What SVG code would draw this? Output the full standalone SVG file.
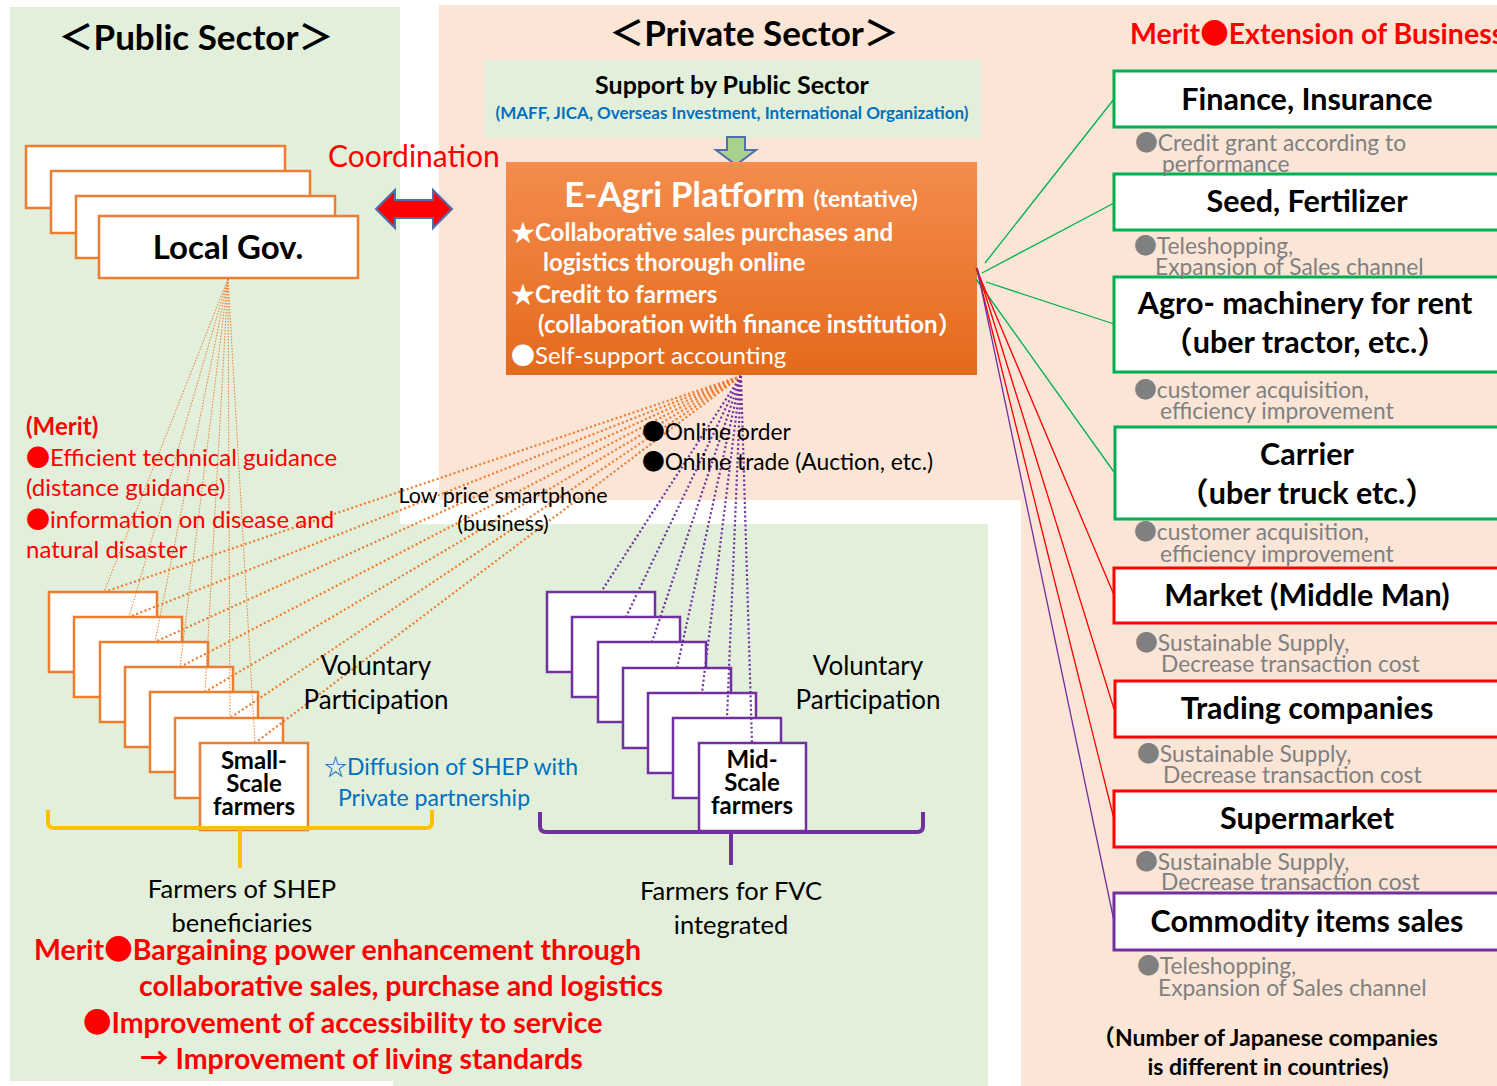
<svg xmlns="http://www.w3.org/2000/svg" width="1497" height="1086" viewBox="0 0 1497 1086">
<defs>
<linearGradient id="pg" x1="0" y1="0" x2="0" y2="1"><stop offset="0" stop-color="#F48C4D"/><stop offset="1" stop-color="#E46A1B"/></linearGradient>
<style>
text { font-family: Lato, "Noto Sans CJK JP", sans-serif; }
.b { font-weight: 700; }
.j { font-family: "Noto Sans CJK JP", sans-serif; }
.ob { fill: #fff; stroke: #ED7D31; stroke-width: 2.5; }
.pb { fill: #fff; stroke: #7030A0; stroke-width: 2.5; }
.gb { fill: #fff; stroke: #00B050; stroke-width: 3; }
.rb { fill: #fff; stroke: #FF0000; stroke-width: 3; }
.vb { fill: #fff; stroke: #7030A0; stroke-width: 3; }
.thin { stroke: #ED7D31; stroke-width: 1; stroke-dasharray: 1.5 1.5; fill: none; }
.od { stroke: #ED7D31; stroke-width: 2.2; stroke-dasharray: 2 2.5; fill: none; }
.pd { stroke: #7030A0; stroke-width: 2.2; stroke-dasharray: 2 2.5; fill: none; }
.lbl { font-size: 30.5px; font-weight: 700; fill: #000; text-anchor: middle; }
.gray { font-size: 22.8px; fill: #808080; }
.red { fill: #FF0000; }
.wt { fill: #fff; }
.farm { font-size: 24px; font-weight: 700; fill: #000; text-anchor: middle; }
</style>
</defs>

<g id="backgrounds">
<rect x="10" y="7" width="390" height="1074" fill="#E2EFDA"/>
<rect x="393" y="524" width="595" height="562" fill="#E2EFDA"/>
<rect x="439" y="5" width="1058" height="495" fill="#FBE5D6"/>
<rect x="1021" y="500" width="476" height="586" fill="#FBE5D6"/>
</g>

<g id="titles">
<text x="196" y="50" class="b" font-size="35" text-anchor="middle"><tspan class="j">＜</tspan>Public Sector<tspan class="j">＞</tspan></text>
<text x="754" y="46" class="b" font-size="35" text-anchor="middle"><tspan class="j">＜</tspan>Private Sector<tspan class="j">＞</tspan></text>
<text x="1130" y="44" class="b red" font-size="28.5">Merit<tspan class="j">●</tspan>Extension of Business</text>
</g>

<g id="support">
<rect x="484" y="60" width="497" height="78" fill="#E2EFDA"/>
<text x="732" y="94" class="b" font-size="25" text-anchor="middle">Support by Public Sector</text>
<text x="732" y="119" class="b" font-size="17" text-anchor="middle" fill="#0070C0">(MAFF, JICA, Overseas Investment, International Organization)</text>
</g>
<polygon id="down-arrow" points="727,137 745,137 745,150 756,150 736,165 716,150 727,150" fill="#A9D18E" stroke="#4F6FA8" stroke-width="2"/>

<g id="platform">
<rect x="506" y="162" width="471" height="213" fill="url(#pg)"/>
<text x="741" y="207" class="b wt" font-size="35" text-anchor="middle">E-Agri Platform <tspan font-size="23">(tentative)</tspan></text>
<text x="511" y="241" class="b wt" font-size="24"><tspan class="j">★</tspan>Collaborative sales purchases and</text>
<text x="543" y="271" class="b wt" font-size="24">logistics thorough online</text>
<text x="511" y="303" class="b wt" font-size="24"><tspan class="j">★</tspan>Credit to farmers</text>
<text x="538" y="333" class="b wt" font-size="24">(collaboration with finance institution<tspan class="j">）</tspan></text>
<text x="511" y="364" class="wt" font-size="24"><tspan class="j">●</tspan>Self-support accounting</text>
</g>

<g id="local-gov">
<rect x="26" y="146" width="259" height="62" class="ob"/>
<rect x="51" y="171" width="259" height="62" class="ob"/>
<rect x="76" y="196" width="259" height="62" class="ob"/>
<rect x="99" y="216" width="259" height="62" class="ob"/>
<text x="228" y="259" class="b" font-size="33" text-anchor="middle">Local Gov.</text>
</g>

<g id="coordination">
<text x="328" y="167" class="red" font-size="30">Coordination</text>
<polygon points="376,209 395,190 395,200 433,200 433,190 452,209 433,228 433,218 395,218 395,228" fill="#FF0000" stroke="#4F6FA8" stroke-width="2"/>
</g>

<g id="small-farmers">
<rect x="49" y="592" width="108" height="80" class="ob"/>
<rect x="74" y="617" width="108" height="80" class="ob"/>
<rect x="100" y="642" width="108" height="80" class="ob"/>
<rect x="125" y="667" width="108" height="80" class="ob"/>
<rect x="150" y="692" width="108" height="80" class="ob"/>
<rect x="175" y="718" width="108" height="80" class="ob"/>
<rect x="200" y="743" width="108" height="87" class="ob"/>
<text class="farm"><tspan x="254" y="769">Small-</tspan><tspan x="254" y="792">Scale</tspan><tspan x="254" y="815">farmers</tspan></text>
</g>

<g id="mid-farmers">
<rect x="547" y="592" width="108" height="80" class="pb"/>
<rect x="572" y="617" width="108" height="80" class="pb"/>
<rect x="598" y="642" width="108" height="80" class="pb"/>
<rect x="623" y="668" width="108" height="80" class="pb"/>
<rect x="648" y="693" width="108" height="80" class="pb"/>
<rect x="673" y="718" width="108" height="80" class="pb"/>
<rect x="699" y="743" width="107" height="88" class="pb"/>
<text class="farm"><tspan x="752" y="768">Mid-</tspan><tspan x="752" y="791">Scale</tspan><tspan x="752" y="814">farmers</tspan></text>
</g>

<g id="connectors">
<g id="gov-lines">
<line x1="228" y1="279" x2="104" y2="592" class="thin"/>
<line x1="228" y1="279" x2="129" y2="617" class="thin"/>
<line x1="228" y1="279" x2="155" y2="642" class="thin"/>
<line x1="228" y1="279" x2="180" y2="667" class="thin"/>
<line x1="228" y1="279" x2="205" y2="692" class="thin"/>
<line x1="228" y1="279" x2="230" y2="718" class="thin"/>
<line x1="228" y1="279" x2="255" y2="743" class="thin"/>
</g>
<g id="platform-small">
<line x1="741" y1="376" x2="104" y2="592" class="od"/>
<line x1="741" y1="376" x2="129" y2="617" class="od"/>
<line x1="741" y1="376" x2="155" y2="642" class="od"/>
<line x1="741" y1="376" x2="180" y2="667" class="od"/>
<line x1="741" y1="376" x2="205" y2="692" class="od"/>
<line x1="741" y1="376" x2="230" y2="718" class="od"/>
<line x1="741" y1="376" x2="255" y2="743" class="od"/>
</g>
<g id="platform-mid">
<line x1="741" y1="376" x2="601" y2="592" class="pd"/>
<line x1="741" y1="376" x2="626" y2="617" class="pd"/>
<line x1="741" y1="376" x2="652" y2="642" class="pd"/>
<line x1="741" y1="376" x2="677" y2="668" class="pd"/>
<line x1="741" y1="376" x2="702" y2="693" class="pd"/>
<line x1="741" y1="376" x2="727" y2="718" class="pd"/>
<line x1="741" y1="376" x2="752" y2="743" class="pd"/>
</g>
<g id="platform-right">
<line x1="985" y1="263" x2="1114" y2="99" stroke="#00B050" stroke-width="1.3"/>
<line x1="982" y1="273" x2="1114" y2="203" stroke="#00B050" stroke-width="1.3"/>
<line x1="986" y1="282" x2="1114" y2="324" stroke="#00B050" stroke-width="1.3"/>
<line x1="976" y1="279" x2="1114" y2="472" stroke="#00B050" stroke-width="1.3"/>
<line x1="976" y1="268" x2="1114" y2="595" stroke="#FF0000" stroke-width="1.3"/>
<line x1="977" y1="268" x2="1114" y2="709" stroke="#FF0000" stroke-width="1.3"/>
<line x1="977" y1="270" x2="1114" y2="819" stroke="#FF0000" stroke-width="1.3"/>
<line x1="977" y1="268" x2="1114" y2="921" stroke="#7030A0" stroke-width="1.3"/>
</g>
<path id="brace-small" d="M48,810 L48,822 Q48,828 54,828 L426,828 Q432,828 432,822 L432,810 M240,828 L240,868" fill="none" stroke="#FFC000" stroke-width="4"/>
<path id="brace-mid" d="M540,812 L540,826 Q540,832 546,832 L917,832 Q923,832 923,826 L923,812 M731,832 L731,865" fill="none" stroke="#7030A0" stroke-width="4"/>
</g>

<g id="left-texts">
<text x="26" y="435" class="b red" font-size="24">(Merit)</text>
<text x="26" y="466" class="red" font-size="24"><tspan class="j">●</tspan>Efficient technical guidance</text>
<text x="26" y="496" class="red" font-size="24">(distance guidance)</text>
<text x="26" y="528" class="red" font-size="24"><tspan class="j">●</tspan>information on disease and</text>
<text x="26" y="558" class="red" font-size="24">natural disaster</text>
</g>

<g id="middle-texts">
<text x="503" y="503" font-size="21.5" text-anchor="middle">Low price smartphone</text>
<text x="503" y="531" font-size="21.5" text-anchor="middle">(business)</text>
<text x="642" y="440" font-size="22.8"><tspan class="j">●</tspan>Online order</text>
<text x="642" y="470" font-size="22.8"><tspan class="j">●</tspan>Online trade (Auction, etc.)</text>
<text x="376" y="675" font-size="26" text-anchor="middle">Voluntary</text>
<text x="376" y="709" font-size="26" text-anchor="middle">Participation</text>
<text x="868" y="675" font-size="26" text-anchor="middle">Voluntary</text>
<text x="868" y="709" font-size="26" text-anchor="middle">Participation</text>
<text x="324" y="775" font-size="23" fill="#0070C0"><tspan class="j">☆</tspan>Diffusion of SHEP with</text>
<text x="338" y="806" font-size="23" fill="#0070C0">Private partnership</text>
<text x="242" y="898" font-size="25.5" text-anchor="middle">Farmers of SHEP</text>
<text x="242" y="932" font-size="25.5" text-anchor="middle">beneficiaries</text>
<text x="731" y="900" font-size="25.5" text-anchor="middle">Farmers for FVC</text>
<text x="731" y="934" font-size="25.5" text-anchor="middle">integrated</text>
</g>

<g id="bottom-merit">
<text x="34" y="960" class="b red" font-size="28.5">Merit<tspan class="j">●</tspan>Bargaining power enhancement through</text>
<text x="139" y="996" class="b red" font-size="28.5">collaborative sales, purchase and logistics</text>
<text x="83" y="1033" class="b red" font-size="28.5"><tspan class="j">●</tspan>Improvement of accessibility to service</text>
<text x="140" y="1069" class="b red" font-size="28.5"><tspan class="j">→</tspan> Improvement of living standards</text>
</g>

<g id="finance"><rect x="1114" y="71" width="400" height="56" class="gb"/><text x="1307" y="110" class="lbl">Finance, Insurance</text></g>
<g id="seed"><rect x="1114" y="174" width="400" height="56" class="gb"/><text x="1307" y="212" class="lbl">Seed, Fertilizer</text></g>
<g id="agro"><rect x="1114" y="277" width="400" height="95" class="gb"/><text x="1305" y="314" class="lbl">Agro- machinery for rent</text><text x="1305" y="353" class="lbl"><tspan class="j">（</tspan>uber tractor, etc.<tspan class="j">）</tspan></text></g>
<g id="carrier"><rect x="1115" y="427" width="400" height="92" class="gb"/><text x="1307" y="465" class="lbl">Carrier</text><text x="1307" y="504" class="lbl"><tspan class="j">（</tspan>uber truck etc.<tspan class="j">）</tspan></text></g>
<g id="market"><rect x="1114" y="568" width="400" height="55" class="rb"/><text x="1307" y="606" class="lbl">Market (Middle Man)</text></g>
<g id="trading"><rect x="1115" y="681" width="400" height="56" class="rb"/><text x="1307" y="719" class="lbl">Trading companies</text></g>
<g id="supermarket"><rect x="1114" y="791" width="400" height="56" class="rb"/><text x="1307" y="829" class="lbl">Supermarket</text></g>
<g id="commodity"><rect x="1114" y="893" width="400" height="57" class="vb"/><text x="1307" y="932" class="lbl">Commodity items sales</text></g>

<g id="merit-notes">
<text x="1135" y="151" class="gray"><tspan class="j">●</tspan>Credit grant according to</text>
<text x="1162" y="172" class="gray">performance</text>
<text x="1134" y="254" class="gray"><tspan class="j">●</tspan>Teleshopping,</text>
<text x="1155" y="275" class="gray">Expansion of Sales channel</text>
<text x="1134" y="398" class="gray"><tspan class="j">●</tspan>customer acquisition,</text>
<text x="1160" y="419" class="gray">efficiency improvement</text>
<text x="1134" y="540" class="gray"><tspan class="j">●</tspan>customer acquisition,</text>
<text x="1160" y="562" class="gray">efficiency improvement</text>
<text x="1135" y="651" class="gray"><tspan class="j">●</tspan>Sustainable Supply,</text>
<text x="1161" y="672" class="gray">Decrease transaction cost</text>
<text x="1137" y="762" class="gray"><tspan class="j">●</tspan>Sustainable Supply,</text>
<text x="1163" y="783" class="gray">Decrease transaction cost</text>
<text x="1135" y="870" class="gray"><tspan class="j">●</tspan>Sustainable Supply,</text>
<text x="1161" y="890" class="gray">Decrease transaction cost</text>
<text x="1137" y="974" class="gray"><tspan class="j">●</tspan>Teleshopping,</text>
<text x="1158" y="996" class="gray">Expansion of Sales channel</text>
<text x="1265" y="1046" class="b" font-size="23" text-anchor="middle"><tspan class="j">（</tspan>Number of Japanese companies</text>
<text x="1268" y="1075" class="b" font-size="23" text-anchor="middle">is different in countries)</text>
</g>
</svg>
